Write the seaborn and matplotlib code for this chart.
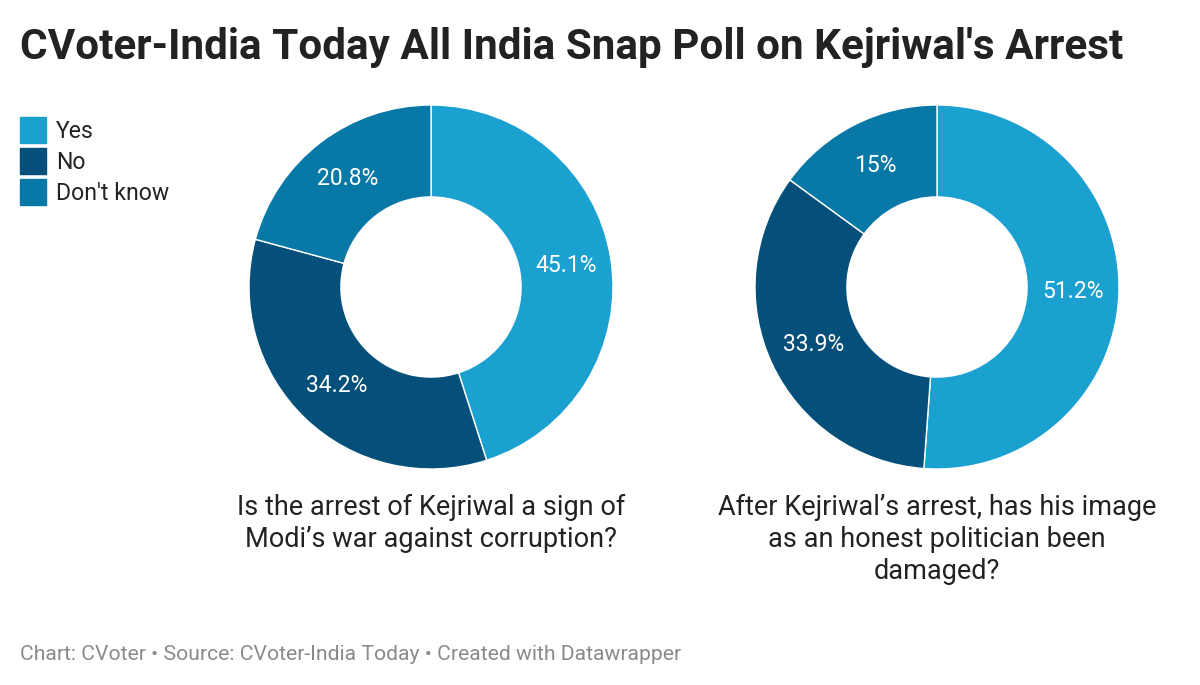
import numpy as np
import matplotlib.pyplot as plt
import seaborn as sns

# --- Data ---
answers = ["Yes", "No", "Don't know"]
q1_values = [45.1, 34.2, 20.8]
q2_values = [51.2, 33.9, 15.0]
q1_labels = ["45.1%", "34.2%", "20.8%"]
q2_labels = ["51.2%", "33.9%", "15%"]
questions = [
    "Is the arrest of Kejriwal a sign of\nModi\u2019s war against corruption?",
    "After Kejriwal\u2019s arrest, has his image\nas an honest politician been\ndamaged?",
]
colors = ["#1ba1cf", "#04507a", "#0878a6"]

sns.set_theme(style="white")
plt.rcParams['font.family'] = ['Roboto', 'DejaVu Sans']

W, H = 1200, 685
fig = plt.figure(figsize=(W / 100, H / 100), dpi=100)
fig.patch.set_facecolor("white")

fig.text(20 / W, 1 - 47 / H, "CVoter-India Today All India Snap Poll on Kejriwal's Arrest",
         fontsize=30.4, fontweight="bold", color="#222222", va="center", ha="left")

R = 182
centers = [431, 937]
for cx, vals, labs, q in zip(centers, [q1_values, q2_values], [q1_labels, q2_labels], questions):
    ax = fig.add_axes([(cx - R) / W, 1 - (287 + R) / H, 2 * R / W, 2 * R / H])
    ax.pie(vals, colors=colors, startangle=90, counterclock=False,
           radius=1, wedgeprops=dict(width=0.505, edgecolor="white", linewidth=1))
    total = sum(vals)
    acc = 0
    for v, lab in zip(vals, labs):
        mid = 90 - (acc + v / 2) / total * 360
        acc += v
        ang = np.deg2rad(mid)
        ax.text(0.75 * np.cos(ang), 0.75 * np.sin(ang), lab, ha="center", va="center",
                color="white", fontsize=16.5)
    ax.set_xlim(-1, 1)
    ax.set_ylim(-1, 1)
    ax.set_aspect("equal")
    ax.axis("off")
    fig.text(cx / W, 1 - 494 / H, q, ha="center", va="top", fontsize=19.5,
             color="#222222", linespacing=1.24)

# legend
for i, (name, c) in enumerate(zip(answers, colors)):
    y = 130 + i * 31
    fig.patches.append(plt.Rectangle((20 / W, 1 - (y + 13) / H), 26 / W, 26 / H,
                                     transform=fig.transFigure, color=c))
    fig.text(56 / W, 1 - (y + 1.5) / H, name, ha="left", va="center", fontsize=16.6, color="#222222")

fig.text(20 / W, 1 - 655 / H,
         "Chart: CVoter \u2022 Source: CVoter-India Today \u2022 Created with Datawrapper",
         ha="left", va="center", fontsize=15.2, color="#8a8a8a")

fig.savefig("out.png", dpi=100, facecolor="white")
